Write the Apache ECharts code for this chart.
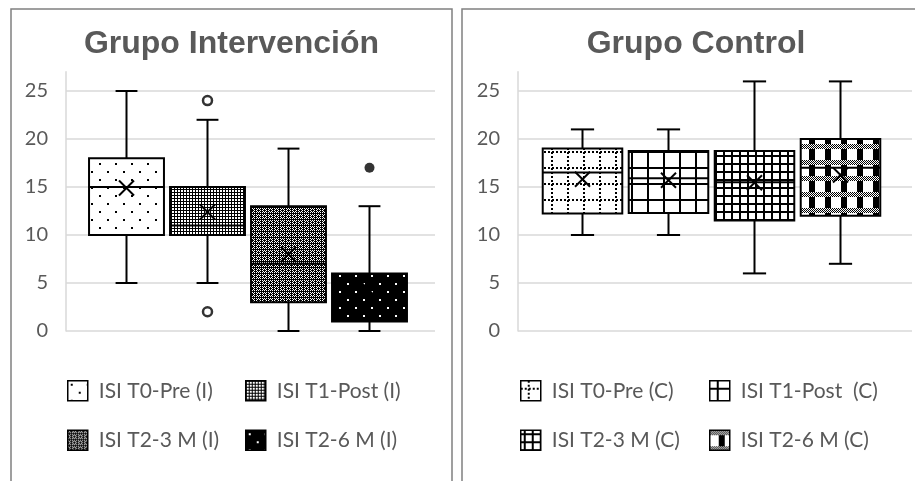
<!DOCTYPE html>
<html>
<head>
<meta charset="utf-8">
<title>ISI por grupo</title>
<script src="https://cdn.jsdelivr.net/npm/echarts@6/dist/echarts.min.js"></script>
<style>
html, body { margin: 0; padding: 0; background: #fff; }
#chart { width: 915px; height: 481px; }
</style>
</head>
<body>
<div id="chart"></div>
<script type="text/javascript">

// Grupo Intervención
var namesI = ['ISI T0-Pre (I)', 'ISI T1-Post (I)', 'ISI T2-3 M (I)', 'ISI T2-6 M (I)'];
var minI = [5, 5, 0, 0];
var q1I = [10, 10, 3, 1];
var medI = [15, 11, 7, 3];
var q3I = [18, 15, 13, 6];
var maxI = [25, 22, 19, 13];
var meanI = [14.9, 12.4, 8.0, 4.2];
var outliersI = [[1, 24], [1, 2], [3, 17]];

// Grupo Control
var namesC = ['ISI T0-Pre (C)', 'ISI T1-Post  (C)', 'ISI T2-3 M (C)', 'ISI T2-6 M (C)'];
var minC = [10, 10, 6, 7];
var q1C = [12.25, 12.3, 11.5, 12];
var medC = [16.5, 15.9, 15.5, 17];
var q3C = [19, 18.75, 18.75, 20];
var maxC = [21, 21, 26, 26];
var meanC = [15.8, 15.7, 15.45, 16.25];

var yTicks = [0, 5, 10, 15, 20, 25];

function tile(w, h, draw) {
    var c = document.createElement('canvas');
    c.width = w;
    c.height = h;
    var ctx = c.getContext('2d');
    draw(ctx);
    return {image: c, repeat: 'repeat'};
}

// Excel-like fill patterns
var patterns = {};
patterns[namesI[0]] = tile(16, 16, function (ctx) {
    ctx.fillStyle = '#fff'; ctx.fillRect(0, 0, 16, 16);
    ctx.fillStyle = '#000'; ctx.fillRect(3, 3, 2, 2); ctx.fillRect(11, 11, 2, 2);
});
patterns[namesI[1]] = tile(3, 3, function (ctx) {
    ctx.fillStyle = '#fff'; ctx.fillRect(0, 0, 3, 3);
    ctx.fillStyle = '#000'; ctx.fillRect(0, 0, 3, 1); ctx.fillRect(0, 0, 1, 3);
});
patterns[namesI[2]] = tile(6, 6, function (ctx) {
    ctx.fillStyle = '#000'; ctx.fillRect(0, 0, 6, 6);
    ctx.fillStyle = '#fff';
    for (var x = 0; x < 6; x++) {
        for (var y = 0; y < 6; y++) {
            if ((x + y) % 2 === 0 && x !== 3 && y !== 3 && !(x === 0 && y === 0)) ctx.fillRect(x, y, 1, 1);
        }
    }
});
patterns[namesI[3]] = tile(16, 16, function (ctx) {
    ctx.fillStyle = '#000'; ctx.fillRect(0, 0, 16, 16);
    ctx.fillStyle = '#fff'; ctx.fillRect(3, 3, 2, 2); ctx.fillRect(11, 11, 2, 2);
});
patterns[namesC[0]] = tile(16, 16, function (ctx) {
    ctx.fillStyle = '#fff'; ctx.fillRect(0, 0, 16, 16);
    ctx.fillStyle = '#000';
    for (var i = 0; i < 16; i += 4) { ctx.fillRect(7, i, 2, 2); ctx.fillRect(i, 7, 2, 2); }
});
patterns[namesC[1]] = tile(16, 16, function (ctx) {
    ctx.fillStyle = '#fff'; ctx.fillRect(0, 0, 16, 16);
    ctx.fillStyle = '#000'; ctx.fillRect(0, 7, 16, 2); ctx.fillRect(7, 0, 2, 16);
});
patterns[namesC[2]] = tile(8, 8, function (ctx) {
    ctx.fillStyle = '#fff'; ctx.fillRect(0, 0, 8, 8);
    ctx.fillStyle = '#000'; ctx.fillRect(0, 3, 8, 2); ctx.fillRect(3, 0, 2, 8);
});
patterns[namesC[3]] = tile(16, 16, function (ctx) {
    ctx.fillStyle = '#fff'; ctx.fillRect(0, 0, 16, 16);
    ctx.fillStyle = '#000'; ctx.fillRect(9, 0, 6, 16);
    for (var x = 0; x < 16; x++) {
        for (var y = 0; y < 5; y++) {
            ctx.fillStyle = (x + y) % 2 === 0 ? '#000' : '#fff';
            ctx.fillRect(x, y, 1, 1);
        }
    }
});

function renderBox(params, api) {
    var x = api.value(0);
    var pMin = api.coord([x, api.value(1)]);
    var pQ1 = api.coord([x, api.value(2)]);
    var pMed = api.coord([x, api.value(3)]);
    var pQ3 = api.coord([x, api.value(4)]);
    var pMax = api.coord([x, api.value(5)]);
    var pMean = api.coord([x, api.value(6)]);
    var band = api.size([1, 0])[0];
    var w = band * 0.925;
    var cap = band * 0.135;
    var cx = pMin[0];
    var m = 7.5;
    var ln = {stroke: '#000', lineWidth: 2};
    return {
        type: 'group',
        children: [
            {type: 'line', shape: {x1: cx, y1: pMax[1], x2: cx, y2: pQ3[1]}, style: ln},
            {type: 'line', shape: {x1: cx, y1: pQ1[1], x2: cx, y2: pMin[1]}, style: ln},
            {type: 'line', shape: {x1: cx - cap, y1: pMax[1], x2: cx + cap, y2: pMax[1]}, style: ln},
            {type: 'line', shape: {x1: cx - cap, y1: pMin[1], x2: cx + cap, y2: pMin[1]}, style: ln},
            {type: 'rect', shape: {x: cx - w / 2, y: pQ3[1], width: w, height: pQ1[1] - pQ3[1]},
                style: {fill: patterns[params.seriesName], stroke: '#000', lineWidth: 2}},
            {type: 'line', shape: {x1: cx - w / 2, y1: pMed[1], x2: cx + w / 2, y2: pMed[1]}, style: ln},
            {type: 'line', shape: {x1: cx - m, y1: pMean[1] - m, x2: cx + m, y2: pMean[1] + m}, style: ln},
            {type: 'line', shape: {x1: cx - m, y1: pMean[1] + m, x2: cx + m, y2: pMean[1] - m}, style: ln}
        ]
    };
}

var series = [];
function addBoxes(names, mins, q1s, meds, q3s, maxs, means, axisIdx) {
    for (var i = 0; i < names.length; i++) {
        series.push({
            name: names[i],
            type: 'custom',
            xAxisIndex: axisIdx,
            yAxisIndex: axisIdx,
            renderItem: renderBox,
            itemStyle: {color: patterns[names[i]], borderColor: '#000', borderWidth: 2},
            encode: {x: 0, y: [1, 2, 3, 4, 5, 6]},
            data: [[i, mins[i], q1s[i], meds[i], q3s[i], maxs[i], means[i]]]
        });
    }
}
addBoxes(namesI, minI, q1I, medI, q3I, maxI, meanI, 1);
addBoxes(namesC, minC, q1C, medC, q3C, maxC, meanC, 3);

series.push({
    name: 'atípicos',
    type: 'scatter',
    xAxisIndex: 1,
    yAxisIndex: 1,
    symbol: 'circle',
    data: outliersI.map(function (p) {
        var filled = p[0] === 3;
        return {
            value: p,
            symbolSize: filled ? 10 : 9,
            itemStyle: filled ? {color: '#000'} : {color: '#fff', borderColor: '#000', borderWidth: 2.5}
        };
    })
});

function wideY(idx) {
    return {
        type: 'value', gridIndex: idx, min: 0, max: 27, interval: 5,
        axisLine: {show: true, lineStyle: {color: '#d9d9d9', width: 1.5}},
        axisTick: {show: false},
        axisLabel: {fontFamily: 'Lato', fontSize: 20, color: '#595959', margin: 18, showMaxLabel: false,
            formatter: function (v) { return yTicks.indexOf(v) >= 0 ? String(v) : ''; }},
        splitLine: {show: true, showMaxLine: false, lineStyle: {color: '#d9d9d9', width: 1.5}}
    };
}
function hiddenY(idx) {
    return {type: 'value', gridIndex: idx, min: 0, max: 27, show: false};
}

function legendCol(names, left) {
    return {
        data: names, left: left, top: 380, orient: 'vertical', padding: 0,
        icon: 'rect', itemWidth: 20, itemHeight: 20, itemGap: 28,
        selectedMode: false,
        itemStyle: {borderColor: '#000', borderWidth: 1.5},
        textStyle: {fontFamily: 'Lato', fontSize: 21, color: '#595959', padding: [0, 0, 0, 6]}
    };
}

var option = {
    animation: false,
    title: [
        {text: 'Grupo Intervención', left: 231.5, top: 28, padding: 0, textAlign: 'center',
            textStyle: {fontFamily: 'Liberation Sans', fontWeight: 'bold', fontSize: 32, color: '#595959'}},
        {text: 'Grupo Control', left: 696, top: 28, padding: 0, textAlign: 'center',
            textStyle: {fontFamily: 'Liberation Sans', fontWeight: 'bold', fontSize: 32, color: '#595959'}}
    ],
    graphic: [
        {type: 'rect', shape: {x: 11, y: 9, width: 441, height: 490}, style: {fill: 'none', stroke: '#808080', lineWidth: 1.5}},
        {type: 'rect', shape: {x: 462, y: 9, width: 470, height: 490}, style: {fill: 'none', stroke: '#808080', lineWidth: 1.5}}
    ],
    legend: [
        legendCol([namesI[0], namesI[2]], 67),
        legendCol([namesI[1], namesI[3]], 245),
        legendCol([namesC[0], namesC[2]], 520),
        legendCol([namesC[1], namesC[3]], 709)
    ],
    grid: [
        {left: 66, top: 71.8, width: 369, height: 259.2},
        {left: 86, top: 71.8, width: 324, height: 259.2},
        {left: 518, top: 71.8, width: 394, height: 259.2},
        {left: 539.5, top: 71.8, width: 344, height: 259.2}
    ],
    xAxis: [
        {type: 'category', gridIndex: 0, data: [''], show: false},
        {type: 'category', gridIndex: 1, data: namesI, show: false},
        {type: 'category', gridIndex: 2, data: [''], show: false},
        {type: 'category', gridIndex: 3, data: namesC, show: false}
    ],
    yAxis: [wideY(0), hiddenY(1), wideY(2), hiddenY(3)],
    series: series
};

var chart = echarts.init(document.getElementById('chart'));
chart.setOption(option);

</script>
</body>
</html>
